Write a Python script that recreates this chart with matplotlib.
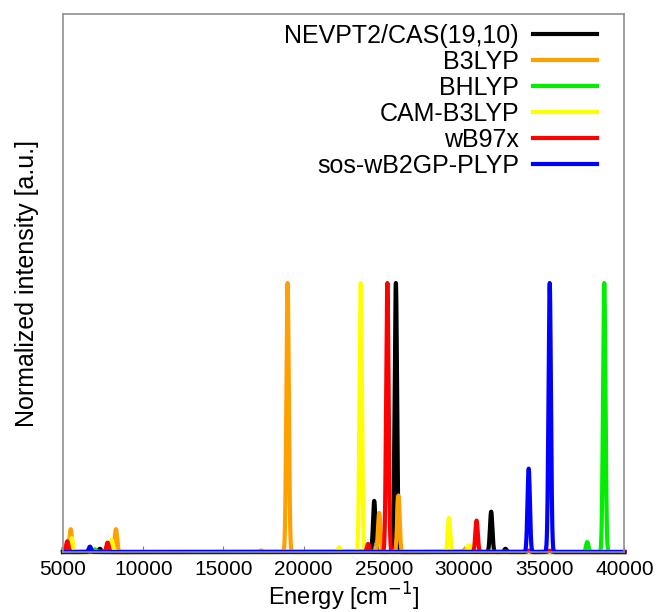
import matplotlib
matplotlib.use('Agg')
import matplotlib.pyplot as plt
import numpy as np

plt.rcParams['font.family'] = ['Liberation Sans', 'DejaVu Sans']

# stick spectra: (energy in cm-1, relative intensity)
nevpt2_pos = [7300, 24400, 25750, 31690, 32580]
nevpt2_int = [0.012, 0.19, 1.00, 0.15, 0.012]

b3lyp_pos = [5480, 8300, 17350, 19000, 24710, 25910, 30050]
b3lyp_int = [0.085, 0.085, 0.006, 1.00, 0.145, 0.21, 0.01]

bhlyp_pos = [5000, 6990, 37680, 38740]
bhlyp_int = [0.01, 0.01, 0.037, 1.00]

cam_pos = [5540, 8030, 22220, 23560, 29060, 30300]
cam_int = [0.052, 0.045, 0.018, 1.00, 0.127, 0.025]

wb97x_pos = [5270, 7780, 24020, 25220, 30780, 34030, 35340]
wb97x_int = [0.04, 0.035, 0.03, 1.00, 0.117, 0.005, 0.005]

sos_pos = [6680, 34030, 35340]
sos_int = [0.02, 0.31, 1.00]

labels = ['NEVPT2/CAS(19,10)', 'B3LYP', 'BHLYP', 'CAM-B3LYP', 'wB97x', 'sos-wB2GP-PLYP']
colors = ['#000000', '#ffa000', '#00ee00', '#ffff00', '#ff0000', '#0000ff']

sigma = 75.0  # gaussian broadening, cm-1
energy = np.arange(5000, 40001, 5.0)


def broaden(pos, inten):
    spec = np.zeros_like(energy)
    for p, h in zip(pos, inten):
        spec += h * np.exp(-0.5 * ((energy - p) / sigma) ** 2)
    return spec


series = [
    (nevpt2_pos, nevpt2_int),
    (b3lyp_pos, b3lyp_int),
    (bhlyp_pos, bhlyp_int),
    (cam_pos, cam_int),
    (wb97x_pos, wb97x_int),
    (sos_pos, sos_int),
]

fig = plt.figure(figsize=(6.59, 6.12), dpi=100)
ax = fig.add_axes([0.0956, 0.098, 0.852, 0.879])

for (pos, inten), lab, col in zip(series, labels, colors):
    ax.plot(energy, broaden(pos, inten), color=col, lw=3, label=lab, clip_on=False)

ax.set_xlim(5000, 40000)
ax.set_ylim(0, 2.0)
ax.set_xticks(np.arange(5000, 40001, 5000))
ax.set_yticks([])
ax.tick_params(axis='x', direction='in', length=4, color='#808080', labelsize=15, pad=6)
for sp in ax.spines.values():
    sp.set_color('#909090')
    sp.set_linewidth(1.2)

ax.set_xlabel('Energy [cm$^{-1}$]', fontsize=17, labelpad=1)
ax.set_ylabel('Normalized intensity [a.u.]', fontsize=18, labelpad=17)

ax.legend(loc='upper right', frameon=False, markerfirst=False, fontsize=18,
          handlelength=2.55, labelspacing=0.08, handletextpad=0.55,
          borderaxespad=0.0, bbox_to_anchor=(0.968, 1.0))

fig.savefig('out.png', dpi=100)
